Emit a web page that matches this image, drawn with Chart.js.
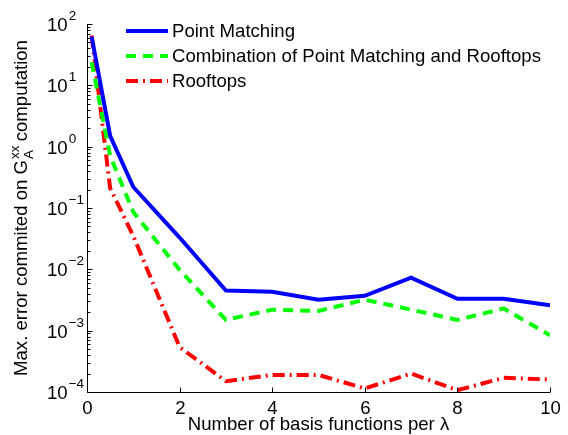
<!DOCTYPE html>
<html>
<head>
<meta charset="utf-8">
<script src="https://cdn.jsdelivr.net/npm/chart.js@4.4.0/dist/chart.umd.min.js"></script>
<style>
  html, body { margin: 0; padding: 0; background: #fff; }
  #wrap { width: 568px; height: 435px; position: relative; }
</style>
</head>
<body>
<div id="wrap"><canvas id="errorChart"></canvas></div>
<script>
// Number of basis functions per lambda (x values)
const basisPerLambda = [0.1, 0.5, 1, 2, 3, 4, 5, 6, 7, 8, 9, 10];

// Max. error for each method
const pointMatching = [62, 1.5, 0.22, 0.033, 0.0045, 0.0043, 0.0032, 0.0037, 0.0073, 0.0033, 0.0033, 0.0026];
const combination = [24, 0.71, 0.086, 0.0098, 0.0015, 0.0022, 0.0021, 0.0032, 0.0022, 0.0015, 0.0023, 0.00084];
const rooftops = [65, 0.21, 0.035, 0.00054, 0.00015, 0.00019, 0.00019, 0.000114, 0.0002, 0.000107, 0.00017, 0.00016];

const seriesLabels = ['Point Matching', 'Combination of Point Matching and Rooftops', 'Rooftops'];
const xTicks = [0, 2, 4, 6, 8, 10];
const yExponents = [2, 1, 0, -1, -2, -3, -4];

const FONT = '"Liberation Sans", Arial, Helvetica, sans-serif';
const BIG = '18.6px ' + FONT;
const SMALL = '13.5px ' + FONT;

function toPoints(values) {
    return values.map((v, i) => ({ x: basisPerLambda[i], y: v }));
}

// Draws the matlab style axes: left + bottom lines, inward ticks, 10^n labels, axis titles
const axesPlugin = {
    id: 'matlabAxes',
    afterDraw(chart) {
        const ctx = chart.ctx;
        const xs = chart.scales.x;
        const ys = chart.scales.y;
        const area = chart.chartArea;
        const left = Math.round(area.left) + 0.5;
        const bottom = Math.round(area.bottom) + 0.5;

        ctx.save();
        ctx.strokeStyle = '#000';
        ctx.fillStyle = '#000';
        ctx.lineWidth = 1;

        ctx.beginPath();
        ctx.moveTo(left, area.top);
        ctx.lineTo(left, bottom);
        ctx.lineTo(area.right, bottom);
        ctx.stroke();

        // x ticks
        ctx.font = BIG;
        ctx.textAlign = 'center';
        ctx.textBaseline = 'top';
        xTicks.forEach(v => {
            const px = Math.round(xs.getPixelForValue(v)) + 0.5;
            ctx.beginPath();
            ctx.moveTo(px, bottom);
            ctx.lineTo(px, bottom - 5);
            ctx.stroke();
            ctx.fillText(String(v), px, bottom + 7);
        });

        // y major ticks and labels
        yExponents.forEach(e => {
            const py = Math.round(ys.getPixelForValue(Math.pow(10, e))) + 0.5;
            ctx.beginPath();
            ctx.moveTo(left, py);
            ctx.lineTo(left + 5, py);
            ctx.stroke();

            ctx.font = BIG;
            ctx.textAlign = 'left';
            ctx.textBaseline = 'middle';
            ctx.fillText('10', 47, py + 1);
            const w = ctx.measureText('10').width;
            ctx.font = SMALL;
            ctx.fillText(e < 0 ? '\u2212' + Math.abs(e) : String(e), 47 + w + 1, py - 8);

            // minor ticks of the decade above
            if (e < 2) {
                for (let k = 2; k <= 9; k++) {
                    const my = Math.round(ys.getPixelForValue(k * Math.pow(10, e))) + 0.5;
                    ctx.beginPath();
                    ctx.moveTo(left, my);
                    ctx.lineTo(left + 3, my);
                    ctx.stroke();
                }
            }
        });

        // x axis title
        ctx.font = BIG;
        ctx.textAlign = 'center';
        ctx.textBaseline = 'middle';
        ctx.fillText('Number of basis functions per \u03bb', (area.left + area.right) / 2, 425);

        // y axis title with G_A^xx
        const part1 = 'Max. error commited on G';
        const part2 = ' computation';
        ctx.font = BIG;
        const w1 = ctx.measureText(part1).width;
        const w3 = ctx.measureText(part2).width;
        ctx.font = SMALL;
        const w2 = Math.max(ctx.measureText('xx').width, ctx.measureText('A').width);
        const total = w1 + w2 + w3;

        ctx.translate(22, (area.top + area.bottom) / 2);
        ctx.rotate(-Math.PI / 2);
        ctx.textAlign = 'left';
        ctx.textBaseline = 'middle';
        let x0 = -total / 2;
        ctx.font = BIG;
        ctx.fillText(part1, x0, 0);
        ctx.font = SMALL;
        ctx.fillText('xx', x0 + w1 + 1, -7);
        ctx.fillText('A', x0 + w1 + 1, 7);
        ctx.font = BIG;
        ctx.fillText(part2, x0 + w1 + w2, 0);

        ctx.restore();
    }
};

// Box-less legend in the top part of the plot
const legendPlugin = {
    id: 'plainLegend',
    afterDraw(chart) {
        const ctx = chart.ctx;
        ctx.save();
        ctx.font = BIG;
        ctx.textAlign = 'left';
        ctx.textBaseline = 'middle';
        chart.data.datasets.forEach((ds, i) => {
            const y = 31 + i * 25;
            ctx.strokeStyle = ds.borderColor;
            ctx.lineWidth = ds.borderWidth;
            ctx.setLineDash(ds.borderDash || []);
            ctx.beginPath();
            ctx.moveTo(126, y);
            ctx.lineTo(168, y);
            ctx.stroke();
            ctx.setLineDash([]);
            ctx.fillStyle = '#000';
            ctx.fillText(ds.label, 172, y + 1);
        });
        ctx.restore();
    }
};

new Chart(document.getElementById('errorChart'), {
    type: 'line',
    data: {
        datasets: [
            {
                label: seriesLabels[0],
                data: toPoints(pointMatching),
                borderColor: '#0000ff',
                borderWidth: 4,
                fill: false
            },
            {
                label: seriesLabels[1],
                data: toPoints(combination),
                borderColor: '#00ff00',
                borderWidth: 4,
                borderDash: [10, 7],
                fill: false
            },
            {
                label: seriesLabels[2],
                data: toPoints(rooftops),
                borderColor: '#ff0000',
                borderWidth: 4,
                borderDash: [12, 5, 2, 5],
                fill: false
            }
        ]
    },
    options: {
        responsive: true,
        maintainAspectRatio: false,
        animation: false,
        layout: { padding: { left: 87, right: 18, top: 24, bottom: 43 } },
        elements: { point: { radius: 0 }, line: { tension: 0 } },
        plugins: {
            legend: { display: false },
            tooltip: { enabled: false }
        },
        scales: {
            x: { type: 'linear', min: 0, max: 10, display: false },
            y: { type: 'logarithmic', min: 1e-4, max: 100, display: false }
        }
    },
    plugins: [axesPlugin, legendPlugin]
});
</script>
</body>
</html>
